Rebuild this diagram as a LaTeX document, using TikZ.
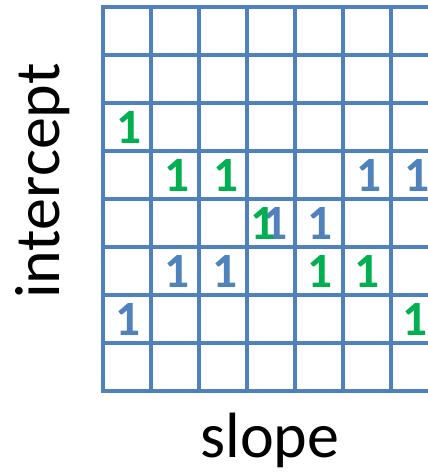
\documentclass[tikz,border=0pt]{standalone}
\usepackage{fontspec}
\setmainfont{Carlito}
\definecolor{cellblue}{HTML}{4F81BD}
\definecolor{votegreen}{HTML}{00B050}
\tikzset{
  cellline/.style={draw=cellblue, line width=2.4pt, line cap=rect},
  bluevote/.style={text=cellblue, inner sep=0pt, font=\fontsize{37}{37}\selectfont\bfseries},
  greenvote/.style={text=votegreen, inner sep=0pt, font=\fontsize{37}{37}\selectfont\bfseries},
  axislabel/.style={inner sep=0pt, font=\fontsize{48}{48}\selectfont}
}
\begin{document}
\begin{tikzpicture}[x=0.75pt,y=0.75pt]
\useasboundingbox (0,0) rectangle (428,472);
% accumulator cells
\foreach \j in {0,...,8}
  \draw[cellline] (103,465-48*\j) -- (430,465-48*\j);
\foreach \i in {0,...,6}
  \draw[cellline] (103+48*\i,465) -- (103+48*\i,81);

% votes of the first point
\node[bluevote] (b63) at (275,249) {1};
\node[bluevote] (b35) at (369,297) {1};
\node[bluevote] (b36) at (417,297) {1};
\node[bluevote] (b44) at (320,249) {1};
\node[bluevote] (b51) at (177,201) {1};
\node[bluevote] (b52) at (225,201) {1};
\node[bluevote] (b60) at (128,153) {1};

% votes of the second point
\node[greenvote] (g20) at (129,345) {1};
\node[greenvote] (g31) at (177,297) {1};
\node[greenvote] (g32) at (226,297) {1};
\node[greenvote] (g43) at (263,249) {1};
\node[greenvote] (g54) at (320,201) {1};
\node[greenvote] (g55) at (367,201) {1};
\node[greenvote] (g66) at (415,153) {1};

\node[axislabel, anchor=base] (slope) at (270,15) {slope};
\node[axislabel, anchor=base, rotate=90] (intercept) at (60,291) {intercept};
\end{tikzpicture}
\end{document}
